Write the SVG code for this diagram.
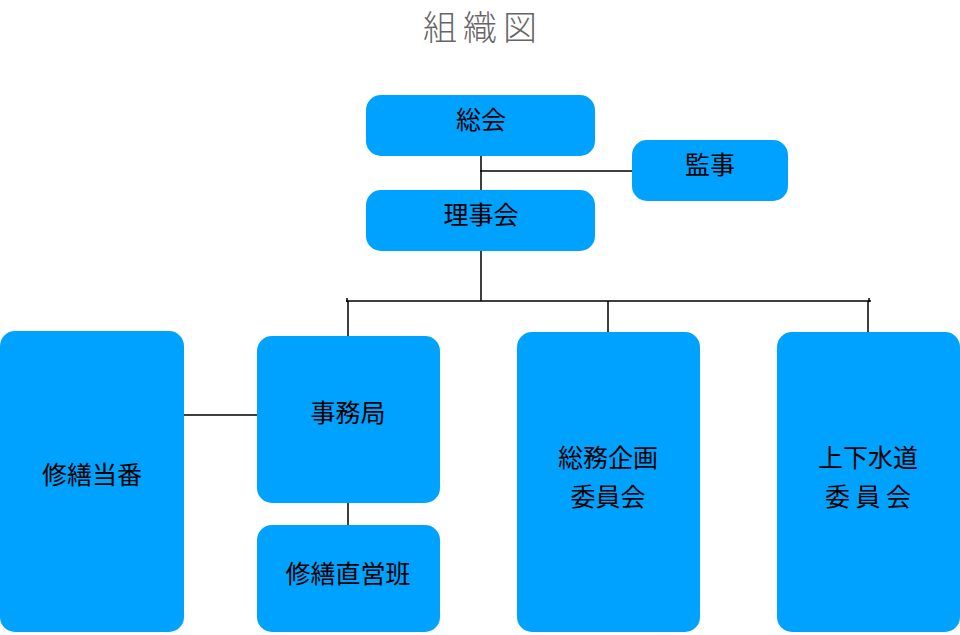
<svg xmlns="http://www.w3.org/2000/svg" width="960" height="635" viewBox="0 0 960 635">
<style>
.box{fill:#00A2FF;}
.t{font-family:"Noto Sans CJK JP","Noto Sans",sans-serif;font-size:25px;fill:#000;text-anchor:middle;}
.title{font-family:"Noto Sans CJK JP","Noto Sans",sans-serif;font-size:34px;fill:#666;text-anchor:middle;letter-spacing:6px;font-weight:300;}
.ln{stroke:#000;stroke-width:1.5;fill:none;}
</style>
<rect width="960" height="635" fill="#fff"/>
<text class="title" x="483" y="40">組織図</text>
<g id="connectors">
<path class="ln" d="M481 156V190M480 171H632M481 251V301M346 301H871M348 301V336M608 301V332M868 301V332M184 415H257M348 503V525"/>
<path class="ln" d="M347 298V302M869 298V302" stroke-width="1"/>
</g>
<g id="soukai"><rect class="box" x="366" y="95" width="229" height="61" rx="15"/><text class="t" x="481" y="129">総会</text></g>
<g id="kanji"><rect class="box" x="632" y="140" width="156" height="61" rx="15"/><text class="t" x="710" y="174">監事</text></g>
<g id="rijikai"><rect class="box" x="366" y="190" width="229" height="61" rx="15"/><text class="t" x="481" y="224">理事会</text></g>
<g id="shuzen-touban"><rect class="box" x="0" y="331" width="184" height="301" rx="15"/><text class="t" x="92" y="484">修繕当番</text></g>
<g id="jimukyoku"><rect class="box" x="257" y="336" width="183" height="167" rx="15"/><text class="t" x="348" y="422">事務局</text></g>
<g id="shuzen-chokueihan"><rect class="box" x="257" y="525" width="183" height="107" rx="15"/><text class="t" x="348" y="583">修繕直営班</text></g>
<g id="soumu-kikaku"><rect class="box" x="517" y="332" width="183" height="300" rx="15"/><text class="t" x="608" y="467">総務企画</text><text class="t" x="608" y="506">委員会</text></g>
<g id="jougesuidou"><rect class="box" x="777" y="332" width="183" height="300" rx="15"/><text class="t" x="868" y="467">上下水道</text><text class="t" x="868" y="506" xml:space="preserve">委 員 会</text></g>
</svg>
